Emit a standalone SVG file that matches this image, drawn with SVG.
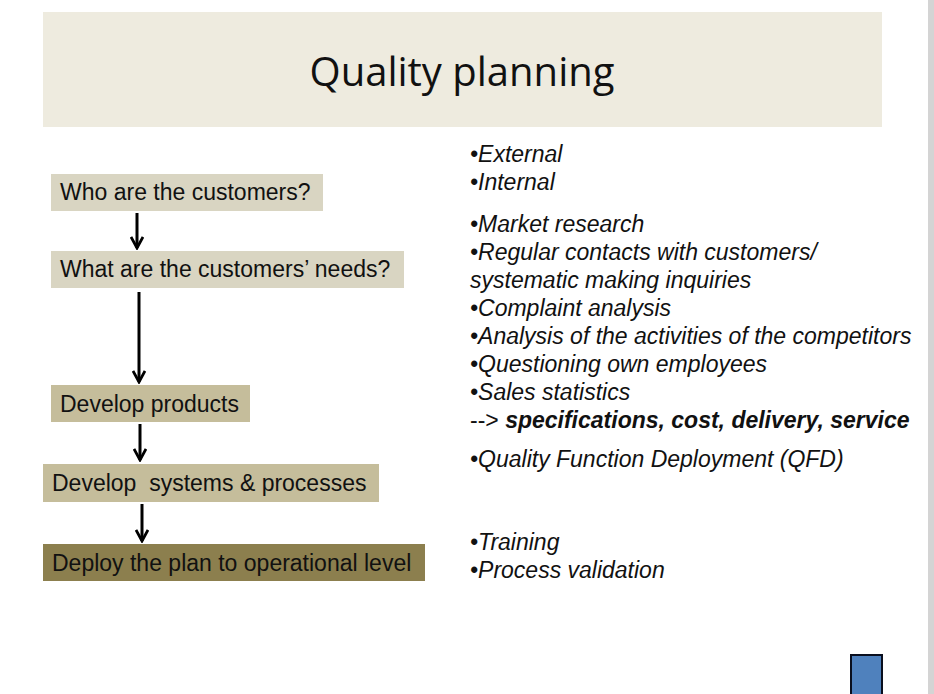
<svg xmlns="http://www.w3.org/2000/svg" width="934" height="694" viewBox="0 0 934 694">
<style>
.n{font-family:"Liberation Sans",Arial,sans-serif;font-size:23px;fill:#111}
.r{font-family:"Liberation Sans",Arial,sans-serif;font-size:23px;font-style:italic;fill:#111}
.c{stroke:#000;stroke-width:3;fill:none}
</style>
<defs><marker id="a" viewBox="0 0 14 14" refX="12" refY="7" markerWidth="14" markerHeight="14" markerUnits="userSpaceOnUse" orient="auto"><path d="M1,1 L12,7 L1,13" fill="none" stroke="#000" stroke-width="2.8"/></marker></defs>
<rect width="934" height="694" fill="#fff"/>
<rect x="928" y="0" width="6" height="694" fill="#d4d4d4"/>
<g id="header"><rect x="43" y="12" width="839" height="115" fill="#eeebdf"/>
<text x="462" y="86" text-anchor="middle" font-family="'Open Sans',sans-serif" font-size="40" fill="#111">Quality planning</text></g>
<g id="n1"><rect x="51" y="174" width="272" height="37" fill="#d9d5c2"/><text class="n" x="60" y="200">Who are the customers?</text></g>
<g id="n2"><rect x="51" y="251" width="353" height="37" fill="#d9d5c2"/><text class="n" x="60" y="277">What are the customers’ needs?</text></g>
<g id="n3"><rect x="51" y="385" width="199" height="37" fill="#c5bd9b"/><text class="n" x="60" y="412">Develop products</text></g>
<g id="n4"><rect x="43" y="464" width="336" height="38" fill="#c5bd9b"/><text class="n" x="52" y="491" xml:space="preserve">Develop  systems &amp; processes</text></g>
<g id="n5"><rect x="43" y="544" width="382" height="37" fill="#8c7f4e"/><text class="n" x="52" y="571">Deploy the plan to operational level</text></g>
<g id="connectors">
<line class="c" x1="137" y1="213" x2="137" y2="248" marker-end="url(#a)"/>
<line class="c" x1="139" y1="292" x2="139" y2="382" marker-end="url(#a)"/>
<line class="c" x1="140" y1="424" x2="140" y2="460" marker-end="url(#a)"/>
<line class="c" x1="142" y1="504" x2="142" y2="541" marker-end="url(#a)"/>
</g>
<g id="notes">
<text class="r" x="470" y="162">•External</text>
<text class="r" x="470" y="190">•Internal</text>
<text class="r" x="470" y="232">•Market research</text>
<text class="r" x="470" y="260">•Regular contacts with customers/</text>
<text class="r" x="470" y="288">systematic making inquiries</text>
<text class="r" x="470" y="316">•Complaint analysis</text>
<text class="r" x="470" y="344">•Analysis of the activities of the competitors</text>
<text class="r" x="470" y="372">•Questioning own employees</text>
<text class="r" x="470" y="400">•Sales statistics</text>
<text class="r" x="470" y="428"><tspan font-style="normal">--&gt; </tspan><tspan font-weight="bold">specifications, cost, delivery, service</tspan></text>
<text class="r" x="470" y="467">•Quality Function Deployment (QFD)</text>
<text class="r" x="470" y="550">•Training</text>
<text class="r" x="470" y="578">•Process validation</text>
</g>
<rect x="851" y="655" width="31" height="40" fill="#4f81bd" stroke="#0a0f1e" stroke-width="2"/>
</svg>
